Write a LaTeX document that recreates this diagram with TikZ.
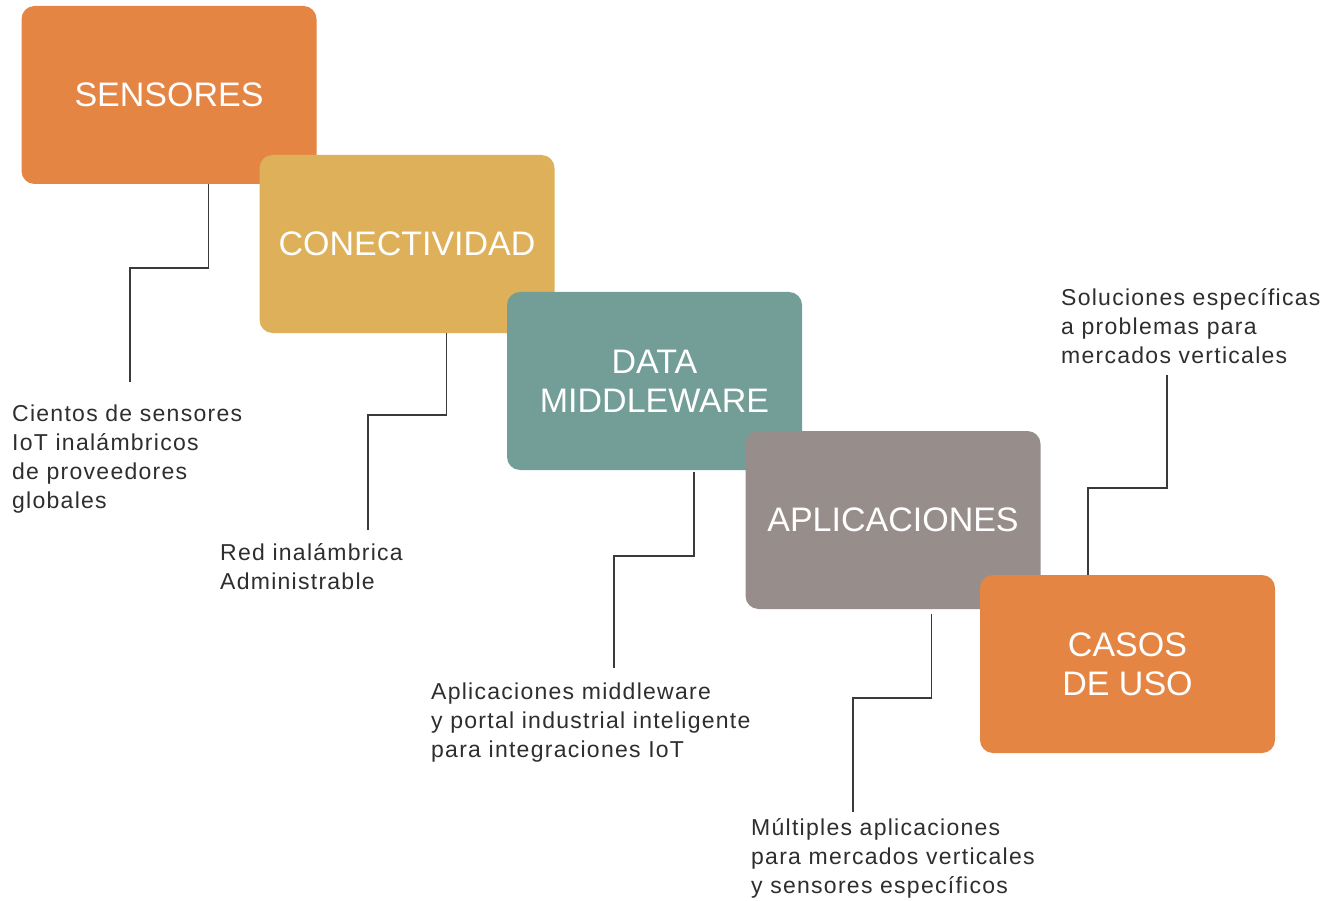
\documentclass[tikz,border=0pt]{standalone}
\usepackage{fontspec}
\setmainfont{Liberation Sans}
\newfontfamily\lblfont[LetterSpace=5.5]{Liberation Sans}
\definecolor{corange}{HTML}{E58544}
\definecolor{cyellow}{HTML}{DEB059}
\definecolor{cteal}{HTML}{739E98}
\definecolor{cgray}{HTML}{978E8B}
\definecolor{ctext}{HTML}{2E2E2E}
\definecolor{cline}{HTML}{3A3A3A}
\begin{document}
\begin{tikzpicture}[x=1pt,y=1pt,
  stage/.style={rounded corners=13pt, minimum width=295pt, minimum height=178pt,
    inner sep=0pt, text=white, align=center,
    font=\fontsize{34}{39}\selectfont},
  lbl/.style={anchor=north west, inner sep=0pt, align=left, text=ctext,
    font=\lblfont\fontsize{23}{29}\selectfont},
  conn/.style={draw=cline, line width=1.6pt}]
\useasboundingbox (0,0) rectangle (1325,-901);
\fill[white] (0,0) rectangle (1325,-901);
% boxes
\node[stage, fill=corange] (b1) at (169,-95) {SENSORES};
\node[stage, fill=cyellow] (b2) at (407,-244) {CONECTIVIDAD};
\node[stage, fill=cteal]   (b3) at (654.5,-381) {DATA\\MIDDLEWARE};
\node[stage, fill=cgray]   (b4) at (893,-520) {APLICACIONES};
\node[stage, fill=corange] (b5) at (1127.5,-664) {CASOS\\DE USO};
% labels
\node[lbl] (l1) at (12,-400.7) {\strut Cientos de sensores\\IoT inalámbricos\\de proveedores\\globales};
\node[lbl] (l2) at (220,-539.7) {\strut Red inalámbrica\\Administrable};
\node[lbl] (l3) at (431,-678.7) {\strut Aplicaciones middleware\\y portal industrial inteligente\\para integraciones IoT};
\node[lbl] (l4) at (751,-814.7) {\strut Múltiples aplicaciones\\para mercados verticales\\y sensores específicos};
\node[lbl] (l5) at (1061,-284.7) {\strut Soluciones específicas\\a problemas para\\mercados verticales};
% connector ends
\coordinate (e1) at (130,-382);
\coordinate (e2) at (368,-530);
\coordinate (e3) at (614,-668);
\coordinate (e4) at (853,-812);
\coordinate (e5) at (1167,-375);
% connectors
\draw[conn] ([xshift=187pt]b1.south west) -- ++(0,-84) -| (e1);
\draw[conn] ([xshift=187pt]b2.south west) -- ++(0,-82) -| (e2);
\draw[conn] ([xshift=187pt,yshift=-2pt]b3.south west) -- ++(0,-84) -| (e3);
\draw[conn] ([xshift=186pt,yshift=-5pt]b4.south west) -- ++(0,-84) -| (e4);
\draw[conn] ([xshift=108pt]b5.north west) -- ++(0,87) -| (e5);
\end{tikzpicture}
\end{document}
